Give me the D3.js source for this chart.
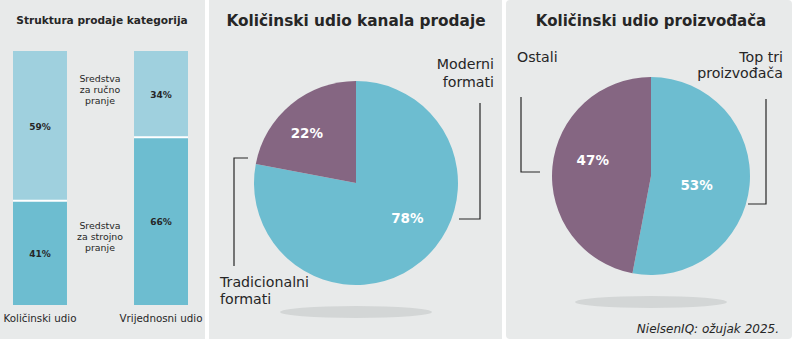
<!DOCTYPE html>
<html>
<head>
<meta charset="utf-8">
<script src="https://cdn.jsdelivr.net/npm/d3@7"></script>
<style>
  body { margin: 0; background: #fff; }
  svg { display: block; font-family: "DejaVu Sans", sans-serif; }
</style>
</head>
<body>
<svg id="chart" width="794" height="341"></svg>
<script>
// --- data ---
const barCats = ["Količinski udio", "Vrijednosni udio"]
const barStrojno = [41, 66]   // Sredstva za strojno pranje (bottom)
const barRucno = [59, 34]     // Sredstva za ručno pranje (top)
const kanalLabels = ["Moderni formati", "Tradicionalni formati"]
const kanalValues = [78, 22]
const proizLabels = ["Top tri proizvođača", "Ostali"]
const proizValues = [53, 47]

const ink = "#262626"
const cyan = "#6dbdd0", cyanLight = "#9fd0de", purple = "#856682"

var svg = d3.select("#chart")

// panels
var panels = [[0, 205], [209, 502], [506, 792]]
svg.selectAll("rect.panel").data(panels).enter().append("rect")
    .attr("class", "panel")
    .attr("x", d => d[0]).attr("y", 0)
    .attr("width", d => d[1] - d[0]).attr("height", 339)
    .attr("rx", (d, i) => i == 2 ? 4 : 0)
    .attr("fill", "#e8eaea")

// ---------- stacked bars ----------
var x = d3.scaleBand().domain(barCats).range([13, 188]).paddingInner(0.554)
var y = d3.scaleLinear().domain([0, 100]).range([305, 51])
var g1 = svg.append("g")

g1.append("text").attr("x", 102).attr("y", 24).attr("text-anchor", "middle")
    .attr("font-size", 10.6).attr("font-weight", 700).attr("fill", ink)
    .text("Struktura prodaje kategorija")

var stack = barCats.map((c, i) => ({ cat: c, low: barStrojno[i], high: barRucno[i] }))
var bars = g1.selectAll("g.bar").data(stack).enter().append("g")
bars.append("rect")
    .attr("x", d => x(d.cat)).attr("width", x.bandwidth())
    .attr("y", d => y(d.low)).attr("height", d => y(0) - y(d.low))
    .attr("fill", cyan)
bars.append("rect")
    .attr("x", d => x(d.cat)).attr("width", x.bandwidth())
    .attr("y", d => y(d.low + d.high)).attr("height", d => y(d.low) - y(d.low + d.high))
    .attr("fill", cyanLight)
bars.append("line")                                   // white split between parts
    .attr("x1", d => x(d.cat)).attr("x2", d => x(d.cat) + x.bandwidth())
    .attr("y1", d => y(d.low)).attr("y2", d => y(d.low))
    .attr("stroke", "#fff").attr("stroke-width", 2)
bars.append("text")
    .attr("x", d => x(d.cat) + x.bandwidth() / 2).attr("y", d => y(d.low / 2) + 4)
    .attr("text-anchor", "middle").attr("font-size", 9).attr("font-weight", 700).attr("fill", ink)
    .text(d => d.low + "%")
bars.append("text")
    .attr("x", d => x(d.cat) + x.bandwidth() / 2).attr("y", d => y(d.low + d.high / 2) + 4)
    .attr("text-anchor", "middle").attr("font-size", 9).attr("font-weight", 700).attr("fill", ink)
    .text(d => d.high + "%")
bars.append("text")
    .attr("x", d => x(d.cat) + x.bandwidth() / 2).attr("y", 322)
    .attr("text-anchor", "middle").attr("font-size", 10.3).attr("fill", ink)
    .text(d => d.cat)

function lines(g, arr, xx, y0, dy, size, anchor) {
    var t = g.append("text").attr("x", xx).attr("y", y0).attr("text-anchor", anchor)
        .attr("font-size", size).attr("fill", ink)
    arr.forEach((s, i) => t.append("tspan").attr("x", xx).attr("dy", i ? dy : 0).text(s))
}
lines(g1, ["Sredstva", "za ručno", "pranje"], 100, 82, 11, 9.4, "middle")
lines(g1, ["Sredstva", "za strojno", "pranje"], 100, 229, 11, 9.4, "middle")

// ---------- pies ----------
function drawPie(cfg) {
    var g = svg.append("g")
    g.append("text").attr("x", cfg.cx).attr("y", 26).attr("text-anchor", "middle")
        .attr("font-size", cfg.titleSize).attr("font-weight", 700).attr("fill", ink)
        .text(cfg.title)
    g.append("ellipse").attr("cx", cfg.cx).attr("cy", cfg.shadowY)
        .attr("rx", 76).attr("ry", 6).attr("fill", "#d3d6d6")
    var arcs = d3.pie().sort(null)(cfg.values)
    var arc = d3.arc().innerRadius(0).outerRadius(cfg.r)
    var pg = g.append("g").attr("transform", `translate(${cfg.cx},${cfg.cy})`)
    pg.selectAll("path").data(arcs).enter().append("path")
        .attr("d", arc).attr("fill", (d, i) => cfg.colors[i])
    pg.selectAll("text").data(arcs).enter().append("text")
        .attr("transform", (d, i) => {
            var a = (d.startAngle + d.endAngle) / 2 + cfg.labelShift[i] * Math.PI / 180
            var rr = cfg.r * cfg.labelR[i]
            return `translate(${Math.sin(a) * rr},${-Math.cos(a) * rr + 5})`
        })
        .attr("text-anchor", "middle").attr("font-size", 13.5).attr("font-weight", 700)
        .attr("fill", "#fff").text(d => d.value + "%")
    cfg.callouts.forEach(c => {
        g.append("path").attr("d", d3.line()(c.path))
            .attr("fill", "none").attr("stroke", ink).attr("stroke-width", 1.2)
        lines(g, c.text, c.x, c.y, c.dy, 14.2, c.anchor)
    })
}

drawPie({
    title: "Količinski udio kanala prodaje", titleSize: 15.3, cx: 356, cy: 183, r: 102, shadowY: 312,
    values: kanalValues, colors: [cyan, purple],
    labelShift: [-16, -5], labelR: [0.61, 0.686],
    callouts: [
        { text: kanalLabels[0].split(" "), x: 494, y: 69, dy: 18, anchor: "end",
          path: [[480, 103], [480, 219], [459, 219]] },
        { text: kanalLabels[1].split(" "), x: 220, y: 287, dy: 17, anchor: "start",
          path: [[248, 158], [234, 158], [234, 266]] }
    ]
})

drawPie({
    title: "Količinski udio proizvođača", titleSize: 15, cx: 651, cy: 176, r: 99, shadowY: 302,
    values: proizValues, colors: [cyan, purple],
    labelShift: [6, 10], labelR: [0.47, 0.61],
    callouts: [
        { text: ["Top tri", "proizvođača"], x: 783, y: 62, dy: 16, anchor: "end",
          path: [[766, 99], [766, 204], [748, 204]] },
        { text: [proizLabels[1]], x: 517, y: 62, dy: 16, anchor: "start",
          path: [[521, 97], [521, 172], [540, 172]] }
    ]
})

svg.append("text").attr("x", 779).attr("y", 333).attr("text-anchor", "end")
    .attr("font-size", 12).attr("font-style", "italic").attr("fill", ink)
    .text("NielsenIQ: ožujak 2025.")
</script>
</body>
</html>
